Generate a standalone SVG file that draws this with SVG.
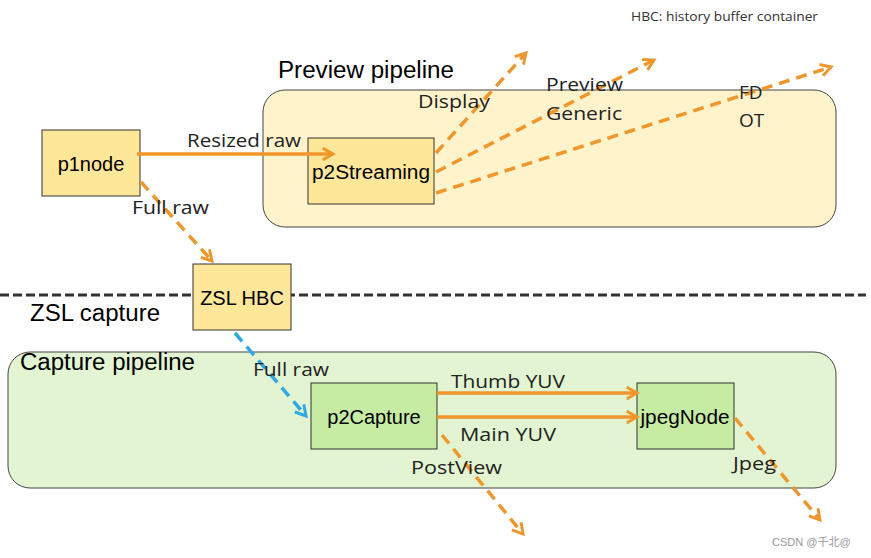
<svg xmlns="http://www.w3.org/2000/svg" width="871" height="558" viewBox="0 0 871 558">
<defs>
<marker id="ah" viewBox="0 0 10 10" refX="8" refY="5" markerWidth="4.2" markerHeight="4.2" orient="auto" markerUnits="strokeWidth">
<path d="M1,1 L8,5 L1,9" fill="none" stroke="#F0962A" stroke-width="2"/>
</marker>
<marker id="ahb" viewBox="0 0 10 10" refX="8" refY="5" markerWidth="4.2" markerHeight="4.2" orient="auto" markerUnits="strokeWidth">
<path d="M1,1 L8,5 L1,9" fill="none" stroke="#2EA8E6" stroke-width="2"/>
</marker>
<style>
.node{stroke:#333;stroke-width:1}
.y{fill:#FFE799}
.g{fill:#C6EBA2}
.nt{font-family:"Liberation Sans",Arial,sans-serif;font-size:20px;fill:#000;text-anchor:middle}
.lb{font-family:"Open Sans","Noto Sans",sans-serif;font-size:19px;fill:#222}
.ttl{font-family:"Liberation Sans",Arial,sans-serif;font-size:23px;fill:#000}
.sol{stroke:#F0962A;stroke-width:3.5;fill:none;marker-end:url(#ah)}
.dsh{stroke:#F0962A;stroke-width:3.5;fill:none;stroke-dasharray:11 7;marker-end:url(#ah)}
.dshb{stroke:#2EA8E6;stroke-width:3.5;fill:none;stroke-dasharray:11 7;marker-end:url(#ahb)}
</style>
</defs>
<rect width="871" height="558" fill="#fff"/>
<g id="containers">
<rect id="preview-pipeline" x="263" y="90" width="573" height="137" rx="22" fill="#FFF3CC" stroke="#444" stroke-width="1"/>
<rect id="capture-pipeline" x="8" y="352" width="828" height="136" rx="22" fill="#E2F4D1" stroke="#444" stroke-width="1"/>
</g>
<line x1="0" y1="295" x2="866" y2="295" stroke="#333" stroke-width="3" stroke-dasharray="9 4"/>
<text class="ttl" x="278" y="78" textLength="176" lengthAdjust="spacingAndGlyphs">Preview  pipeline</text>
<text class="ttl" x="30" y="321" textLength="130" lengthAdjust="spacingAndGlyphs">ZSL capture</text>
<text class="ttl" x="20" y="370" textLength="175" lengthAdjust="spacingAndGlyphs">Capture pipeline</text>
<text x="631" y="21" font-family="'Open Sans','Noto Sans',sans-serif" font-size="13" fill="#333" textLength="187" lengthAdjust="spacingAndGlyphs">HBC: history buffer container</text>
<g id="p1node"><rect class="node y" x="42" y="130" width="98" height="66"/><text class="nt" x="91" y="171">p1node</text></g>
<g id="p2Streaming"><rect class="node y" x="308" y="138" width="126" height="66"/><text class="nt" x="371" y="179" textLength="118" lengthAdjust="spacingAndGlyphs">p2Streaming</text></g>
<g id="zslhbc"><rect class="node y" x="193" y="264" width="98" height="66"/><text class="nt" x="242" y="305">ZSL HBC</text></g>
<g id="p2Capture"><rect class="node g" x="311" y="383" width="126" height="66"/><text class="nt" x="374" y="424">p2Capture</text></g>
<g id="jpegNode"><rect class="node g" x="637" y="383" width="97" height="66"/><text class="nt" x="685" y="424" textLength="89" lengthAdjust="spacingAndGlyphs">jpegNode</text></g>
<g id="connectors">
<line class="sol" x1="137" y1="154" x2="333" y2="154"/>
<line class="dsh" x1="141" y1="182" x2="212" y2="261"/>
<line class="dsh" x1="436" y1="153" x2="526" y2="53"/>
<line class="dsh" x1="436" y1="172" x2="654" y2="60"/>
<line class="dsh" x1="436" y1="193" x2="831" y2="67"/>
<line class="dshb" x1="235" y1="333" x2="306" y2="416"/>
<line class="sol" x1="437" y1="393" x2="637" y2="393"/>
<line class="sol" x1="437" y1="417" x2="637" y2="417"/>
<line class="dsh" x1="442" y1="435" x2="523" y2="534"/>
<line class="dsh" x1="735" y1="418" x2="820" y2="520"/>
</g>
<g id="labels">
<text class="lb" x="187" y="147" textLength="114" lengthAdjust="spacingAndGlyphs">Resized raw</text>
<text class="lb" x="132" y="214" textLength="77" lengthAdjust="spacingAndGlyphs">Full raw</text>
<text class="lb" x="418" y="108" textLength="72" lengthAdjust="spacingAndGlyphs">Display</text>
<text class="lb" x="546" y="91" textLength="77" lengthAdjust="spacingAndGlyphs">Preview</text>
<text class="lb" x="546" y="120" textLength="76" lengthAdjust="spacingAndGlyphs">Generic</text>
<text class="lb" x="739" y="99">FD</text>
<text class="lb" x="739" y="127">OT</text>
<text class="lb" x="253" y="376" textLength="76" lengthAdjust="spacingAndGlyphs">Full raw</text>
<text class="lb" x="451" y="388" textLength="114" lengthAdjust="spacingAndGlyphs">Thumb YUV</text>
<text class="lb" x="460" y="441" textLength="96" lengthAdjust="spacingAndGlyphs">Main YUV</text>
<text class="lb" x="411" y="474" textLength="91" lengthAdjust="spacingAndGlyphs">PostView</text>
<text class="lb" x="733" y="470" textLength="43" lengthAdjust="spacingAndGlyphs">Jpeg</text>
</g>
<text x="772" y="546" font-family="'Liberation Sans','Noto Sans CJK SC',sans-serif" font-size="11" fill="#999">CSDN @千北@</text>
</svg>
